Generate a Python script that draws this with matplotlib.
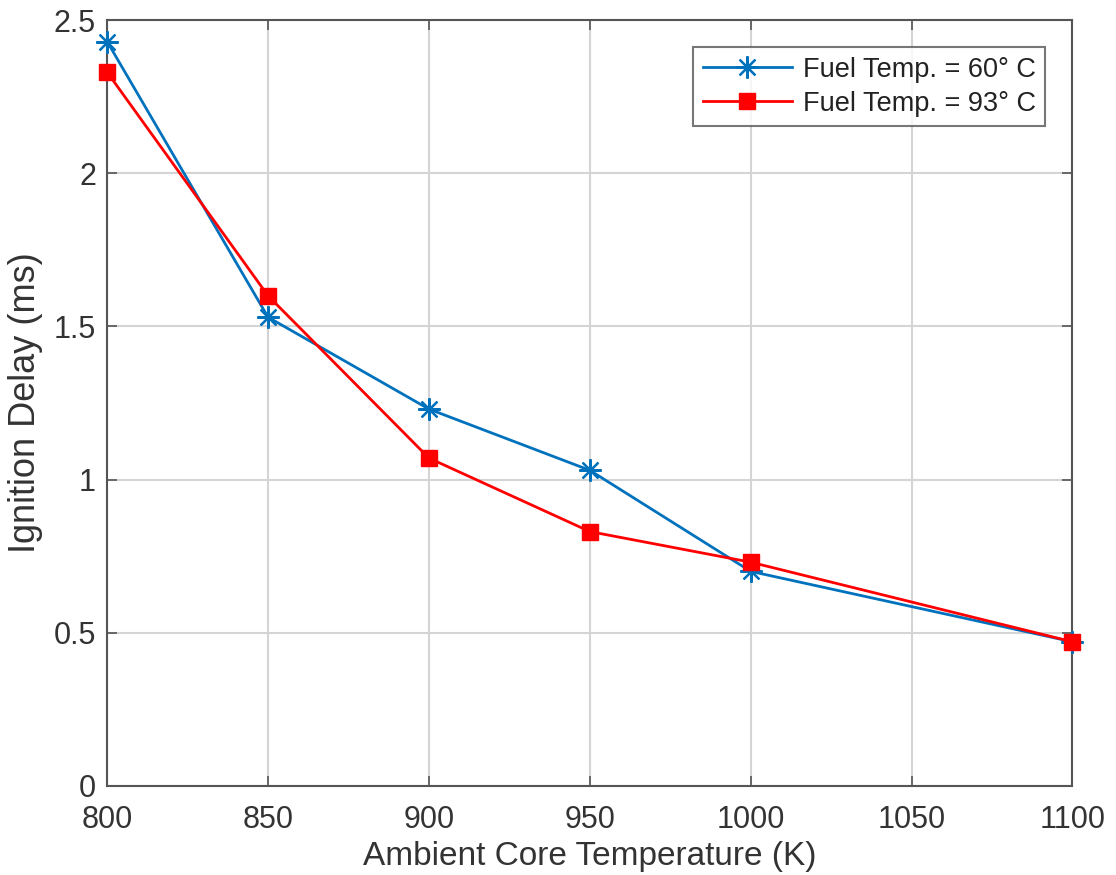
import matplotlib
matplotlib.use("Agg")
import matplotlib.pyplot as plt

temps = [800, 850, 900, 950, 1000, 1100]
delay_60 = [2.43, 1.53, 1.23, 1.03, 0.70, 0.47]
delay_93 = [2.33, 1.60, 1.07, 0.83, 0.73, 0.47]
xticks = [800, 850, 900, 950, 1000, 1050, 1100]
yticks = [0, 0.5, 1, 1.5, 2, 2.5]

plt.rcParams['font.family'] = ['Liberation Sans', 'DejaVu Sans']

fig = plt.figure(figsize=(11.16, 8.75), dpi=100)
ax = fig.add_axes([0.096, 0.102, 0.865, 0.875])

ax.plot(temps, delay_60, color='#0072BD', marker=(8, 2, 0), markersize=16, linewidth=2,
        markeredgewidth=1.6, label='Fuel Temp. = 60° C', zorder=3, clip_on=False)
ax.plot(temps, delay_93, color='#FF0000', marker='s', markersize=11, linewidth=2,
        label='Fuel Temp. = 93° C', zorder=3, clip_on=False)

ax.set_xlim(800, 1100)
ax.set_ylim(0, 2.5)
ax.set_xticks(xticks)
ax.set_yticks(yticks)
ax.set_yticklabels(['0', '0.5', '1', '1.5', '2', '2.5'])
ax.grid(True, color='#d4d4d4', linewidth=1.5)
ax.set_axisbelow(True)
for s in ax.spines.values():
    s.set_color('#555555')
    s.set_linewidth(1.5)
ax.tick_params(direction='in', length=7, width=1.2, colors='#555555', labelsize=22,
               labelcolor='#333333', top=True, right=True)
ax.tick_params(axis='x', pad=14)
ax.tick_params(axis='y', pad=8)
ax.set_xlabel('Ambient Core Temperature (K)', fontsize=24, color='#333333', labelpad=4)
ax.set_ylabel('Ignition Delay (ms)', fontsize=26, color='#333333', labelpad=8)

leg = ax.legend(loc='upper right', fontsize=19.5, frameon=True, fancybox=False,
                borderaxespad=1.0, handlelength=3.3, handletextpad=0.4,
                edgecolor='#555555', borderpad=0.35, labelspacing=0.3)
leg.get_frame().set_linewidth(1.5)
for t in leg.get_texts():
    t.set_color('#222222')

fig.savefig('out.png', dpi=100)
